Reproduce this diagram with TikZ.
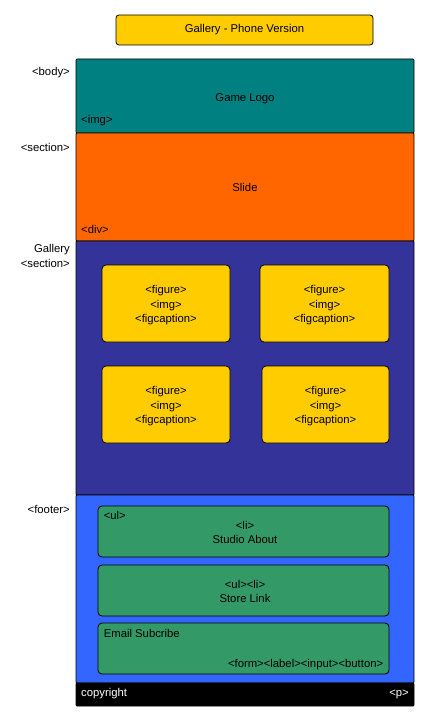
\documentclass[tikz,border=0pt]{standalone}
\usepackage{fontspec}
\setmainfont{Liberation Sans}
\usetikzlibrary{positioning}
\definecolor{ink}{HTML}{000000}
\definecolor{gold}{HTML}{FFCC00}
\definecolor{tl}{HTML}{008080}
\definecolor{orng}{HTML}{FF6600}
\definecolor{navy}{HTML}{333399}
\definecolor{sky}{HTML}{3366FF}
\definecolor{grn}{HTML}{339966}
\tikzset{
  txt/.style={font=\fontsize{11.3}{14.5}\selectfont,text=ink,inner sep=1pt},
  panel/.style={draw=ink,line width=0.8pt,rounded corners=1pt,minimum width=338pt,inner sep=0pt,txt},
  card/.style={draw=ink,fill=gold,line width=0.8pt,rounded corners=4pt,minimum width=128pt,minimum height=77pt,inner sep=0pt},
  bar/.style={draw=ink,fill=grn,line width=0.8pt,rounded corners=4pt,minimum width=291pt,minimum height=51pt,inner sep=0pt},
  side/.style={txt,align=right,anchor=east},
  tag/.style={txt,anchor=west},
  mid/.style={txt,align=center}
}
\newcommand{\figtxt}{<figure>\\<img>\\<figcaption>}

\begin{document}
\begin{tikzpicture}[x=1pt,y=-1pt]
\useasboundingbox (0,0) rectangle (429,722);
% ================= title =================
\node[draw=ink,fill=gold,line width=0.8pt,rounded corners=3pt,minimum width=257pt,minimum height=30pt,txt] (title) at (244.5,30) {Gallery - Phone Version};
% ================= page panels =================
\node[panel,fill=tl,minimum height=74pt] (logo) at (245,96) {};
\node[panel,fill=orng,minimum height=108pt] (slide) at (245,187) {};
\node[panel,fill=navy,minimum height=254pt] (gallery) at (245,368) {};
\node[panel,fill=sky,minimum height=188pt] (footer) at (245,589) {};
\node[panel,fill=ink,minimum height=23pt] (copy) at (245,694.5) {};
\node[txt] (logotxt) at (245,98.5) {Game Logo};
\node[txt] (slidetxt) at (245,187.5) {Slide};
\node[tag,anchor=south west] (imgtag) at (80,127) {<img>};
\node[tag,anchor=south west] (divtag) at (80,235) {<div>};
\node[tag,text=white] (copytxt) at (80,694) {copyright};
\node[txt,text=white,anchor=east] (ptag) at (410,694) {<p>};
% ================= left labels =================
\node[side] (bodyl) at (71,73) {<body>};
\node[side] (sectl) at (71,147) {<section>};
\node[side] (galll) at (71,256) {Gallery\\<section>};
\node[side] (footl) at (71,509) {<footer>};
% ================= gallery cards =================
\node[card] (fig1) at (166,303.5) {};
\node[card,minimum width=129pt] (fig2) at (324.5,303.5) {};
\node[card] (fig3) at (166,404.5) {};
\node[card,minimum width=127pt] (fig4) at (325.5,404.5) {};
\foreach \f in {fig1,fig2,fig3,fig4}
  \node[mid] (\f txt) at ([yshift=-2pt]\f.center) {\figtxt};
% ================= footer bars =================
\node[bar] (about) at (243.5,531.5) {};
\node[bar] (store) at (243.5,590.5) {};
\node[bar] (email) at (243.5,648.5) {};
\node[mid] (abouttxt) at (245,532.5) {<li>\\Studio About};
\node[mid] (storetxt) at (245,591.5) {<ul><li>\\Store Link};
\node[tag,anchor=north west] (ultag) at (about.north west) [xshift=5pt,yshift=-5pt] {<ul>};
\node[tag,anchor=north west] (emailtxt) at (email.north west) [xshift=5pt,yshift=-6pt] {Email Subcribe};
\node[txt,anchor=south east] (formtag) at (email.south east) [xshift=-5pt,yshift=3pt] {<form><label><input><button>};
\end{tikzpicture}
\end{document}
